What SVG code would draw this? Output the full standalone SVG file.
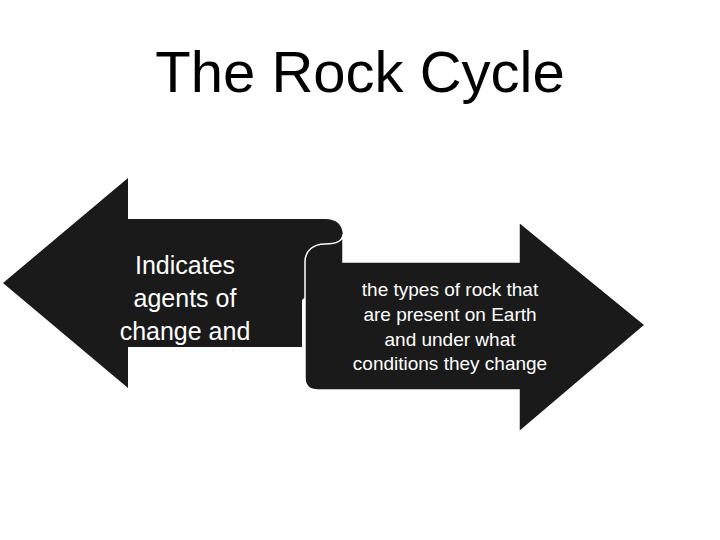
<svg xmlns="http://www.w3.org/2000/svg" width="720" height="540" viewBox="0 0 720 540">
<style>.a{fill:#1a1a1a}.t{font-family:"Liberation Sans",Arial,sans-serif;fill:#fff;text-anchor:middle}</style>
<rect width="720" height="540" fill="#fff"/>
<text x="360" y="92" font-family="Liberation Sans,Arial,sans-serif" font-size="58" text-anchor="middle" fill="#000">The Rock Cycle</text>
<g id="left-arrow">
<path class="a" d="M3,283 L128,178 L128,219 L325,219 Q343,219 343,237 L343,262 L302,300 L302,347 L128,347 L128,388 Z"/>
<text class="t" font-size="25"><tspan x="185" y="274">Indicates</tspan><tspan x="185" y="307">agents of</tspan><tspan x="185" y="340">change and</tspan></text>
</g>
<g id="right-arrow">
<path class="a" stroke="#fff" stroke-width="1.5" d="M305,378 L305,262 C305,250 314,244 325,244 C336,244 343,241 343,234 L343,262 L519,262 L519,222 L645,325 L519,432 L519,390 L318,390 Q305,390 305,378 Z"/>
<text class="t" font-size="19"><tspan x="450" y="296">the types of rock that</tspan><tspan x="450" y="321">are present on Earth</tspan><tspan x="450" y="346">and under what</tspan><tspan x="450" y="370">conditions they change</tspan></text>
</g>
<g id="connectors"/>
</svg>
